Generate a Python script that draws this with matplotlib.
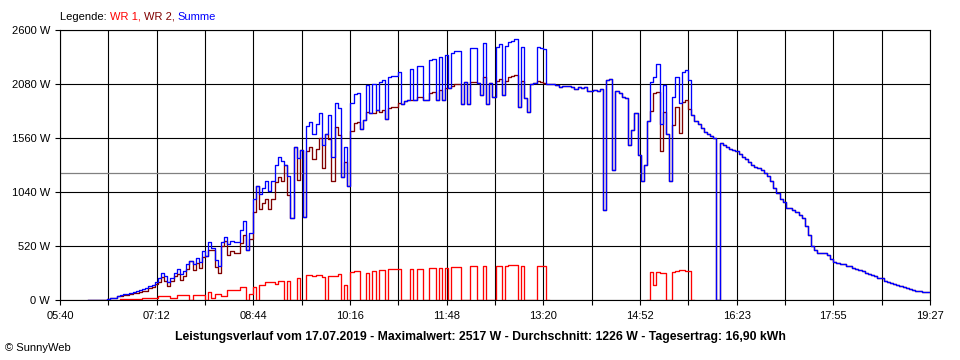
import numpy as np
import matplotlib
matplotlib.use('Agg')
import matplotlib.pyplot as plt

plt.rcParams['font.family'] = ['Liberation Sans', 'DejaVu Sans']

# samples every 3 minutes, starting at 05:40 (index 0); None = no value
STEP_MIN = 3
DAY_MIN = 827  # 05:40 .. 19:27

summe = [
    None, None, None, None, None, None, None, None, None,
    5, 5, 5, 5, 5, 5, 8, 20, 25, 40,
    55, 60, 62, 70, 78, 85, 95, 105, 115, 140,
    150, 175, 215, 265, 230, 180, 210, 260, 300, 250,
    280, 350, 380, 345, 410, 370, 470, 430, 560, 500,
    390, 330, 560, 610, 540, 570, 560, 560, 680, 760,
    480, 650, 980, 1100, 1020, 1080, 1150, 1050, 1150, 1300,
    1380, 1340, 1300, 1200, 790, 1480, 1370, 1450, 800, 1680,
    1720, 1600, 1700, 1800, 1500, 1600, 1780, 1380, 1900, 1850,
    1190, 1480, 1100, 1900, 1990, 2000, 1650, 1740, 2070, 1800,
    2085, 1830, 2100, 2120, 1750, 2150, 2160, 2160, 2200, 1890,
    1920, 1925, 2230, 1925, 2260, 2260, 1930, 1925, 2310, 2320,
    1930, 2340, 1930, 2360, 2040, 2380, 2400, 2400, 1895, 2100,
    1895, 2430, 2430, 2090, 1980, 2480, 1895, 2090, 1960, 2440,
    2465, 1980, 2450, 2490, 2500, 2517, 1860, 2440, 1950, 1810,
    2080, 2090, 2440, 2430, 2420, 2085, 2085, 2080, 2070, 2055,
    2060, 2065, 2065, 2050, 2030, 2050, 2040, 2055, 2020, 2020,
    2025, 2020, 2030, 870, 2120, 2130, 1250, 2020, 2000, 1960,
    1950, 1500, 1640, 1800, 1400, 1150, 1300, 1730, 2100, 2150,
    2280, 1700, 2070, 1600, 1150, 1960, 2150, 1900, 2200, 2215,
    2125, 1780, 1730, 1700, 1660, 1620, 1600, 1580, 1560, 0,
    1510, 1495, 1475, 1460, 1445, 1440, 1410, 1380, 1360, 1330,
    1300, 1285, 1275, 1250, 1225, 1200, 1150, 1080, 1030, 980,
    945, 890, 885, 865, 850, 825, 790, 720, 630, 520,
    480, 460, 460, 460, 440, 400, 372, 360, 350, 345,
    330, 328, 310, 305, 290, 285, 265, 258, 240, 234,
    215, 212, 190, 180, 165, 157, 145, 138, 128, 122,
    105, 100, 90, 90, 80, 77, 77, 77,
]

wr1 = [None] * 19 + [
    12, 12, 12, 12, 12, 12, 15, 20, 22, 22,
    22, 22, 40, 40, 40, 40, 25, 25, 50, 50,
    50, 50, 0, 55, 55, 55, 55, 0, 80, 20,
    65, 65, 40, 40, 100, 100, 100, 100, 130, 130,
    0, 60, 130, 0, 145, 145, 175, 175, 175, 160,
    190, 190, 0, 190, 0, 0, 210, 0, 0, 240,
    240, 235, 245, 240, 225, 0, 230, 230, 230, 257,
    0, 150, 0, 270, 280, 280, 0, 0, 260, 0,
    280, 0, 290, 290, 0, 300, 300, 300, 300, 0,
    0, 0, 300, 0, 305, 305, 0, 0, 315, 315,
    0, 315, 0, 315, 0, 320, 320, 320, 0, 0,
    0, 330, 330, 0, 0, 330, 0, 0, 0, 330,
    330, 0, 335, 343, 343, 343, 0, 330, 0, 0,
    0, 0, 330, 330, 330, 0,
] + [None] * 31 + [
    0, 273, 150, 270, 260, 260, 0, 0, 275, 285,
    290, 290, 285, 285, 0,
]

tick_labels = ['05:40', '07:12', '08:44', '10:16', '11:48',
               '13:20', '14:52', '16:23', '17:55', '19:27']
y_ticks = [0, 520, 1040, 1560, 2080, 2600]
mean_w = 1226

title = ('Leistungsverlauf vom 17.07.2019 - Maximalwert: 2517 W - '
         'Durchschnitt: 1226 W - Tagesertrag: 16,90 kWh')

summe = np.array(summe, dtype=float)
wr1 = np.array(wr1 + [None] * (len(summe) - len(wr1)), dtype=float)
# WR 2 is what is left of the sum once WR 1 is taken off
wr2 = summe - np.nan_to_num(wr1)
t = np.arange(len(summe)) * STEP_MIN

fig = plt.figure(figsize=(9.6, 3.6), dpi=100)
ax = fig.add_axes([60 / 960, 59.7 / 360, 870 / 960, 270 / 360])

ax.axhline(mean_w, color='#808080', lw=0.9, zorder=1.5)
ax.step(t, wr1, where='post', color='#ff0000', lw=0.95, zorder=2)
ax.step(t, wr2, where='post', color='#800000', lw=0.95, zorder=3)
ax.step(t, summe, where='post', color='#0000ff', lw=0.95, zorder=4)

ax.set_xlim(0, DAY_MIN)
ax.set_ylim(0, 2600)
xt = np.linspace(0, DAY_MIN, 19)
ax.set_xticks(xt)
lab = [''] * 19
lab[::2] = tick_labels
ax.set_xticklabels(lab)
ax.set_yticks(y_ticks)
ax.set_yticklabels(['%d W' % v for v in y_ticks])
ax.tick_params(direction='out', length=3.6, width=0.8, color='black',
               labelsize=8, pad=3.6)
ax.tick_params(axis='x', pad=4.3)
ax.grid(True, color='black', lw=0.8)
ax.set_axisbelow(True)
for s in ax.spines.values():
    s.set_color('black')
    s.set_linewidth(0.8)

fig.text(0.5, 1 - 337 / 360, title, ha='center', va='center',
         fontsize=8.8, fontweight='bold')
fig.text(5 / 960, 1 - 348 / 360, '\u00a9 SunnyWeb', ha='left', va='center',
         fontsize=8)

# coloured legend line, pieces placed one after the other
renderer = fig.canvas.get_renderer()
x = 60 / 960
for txt, col in [('Legende: ', 'black'), ('WR 1, ', '#ff0000'),
                 ('WR 2, ', '#800000'), ('Summe', '#0000ff')]:
    tt = fig.text(x, 1 - 16.7 / 360, txt, ha='left', va='center',
                  fontsize=8, color=col)
    bb = tt.get_window_extent(renderer)
    x += bb.width / fig.bbox.width

fig.savefig('out.png', dpi=100)
